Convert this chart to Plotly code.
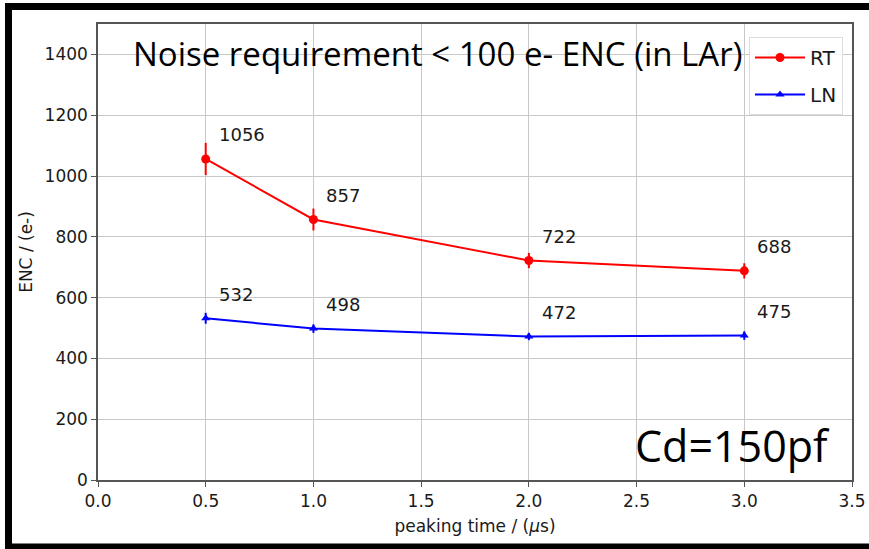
import plotly.graph_objects as go

peaking_time = [0.5, 1.0, 2.0, 3.0]
rt_enc = [1056, 857, 722, 688]
rt_err = [53, 36, 25, 25]
ln_enc = [532, 498, 472, 475]
ln_err = [18, 14, 12, 14]

x_ticks = [0.0, 0.5, 1.0, 1.5, 2.0, 2.5, 3.0, 3.5]
y_ticks = [0, 200, 400, 600, 800, 1000, 1200, 1400]

W, H = 869, 549
ML, MR, MT, MB = 98, 17, 24, 69
PW, PH = W - ML - MR, H - MT - MB

def px(x):
    return (x - ML) / PW

def py(y):
    return (H - MB - y) / PH

fig = go.Figure()
fig.add_trace(go.Scatter(
    x=peaking_time, y=rt_enc, name="RT", mode="lines+markers", legendgroup="rt",
    line=dict(color="#ff0000", width=2),
    marker=dict(symbol="circle", size=9, color="#ff0000"),
    error_y=dict(type="data", array=rt_err, color="#ff0000", thickness=2, width=0),
))
fig.add_trace(go.Scatter(
    x=peaking_time, y=ln_enc, name="LN", mode="lines+markers", legendgroup="ln",
    line=dict(color="#0000ff", width=2),
    marker=dict(symbol="triangle-up", size=8, color="#0000ff"),
    error_y=dict(type="data", array=ln_err, color="#0000ff", thickness=2, width=0),
))

annots = []
for xs, ys in ((peaking_time, rt_enc), (peaking_time, ln_enc)):
    for x, y in zip(xs, ys):
        annots.append(dict(x=x, y=y, xref="x", yref="y", text=str(y), showarrow=False,
                           xanchor="left", yanchor="middle", xshift=11, yshift=24,
                           font=dict(family="DejaVu Sans", size=18, color="#1a1a1a")))
annots.append(dict(x=px(131), y=py(54), xref="paper", yref="paper",
                   text="Noise requirement < 100 e- ENC (in LAr)", showarrow=False,
                   xanchor="left", yanchor="middle",
                   font=dict(family="Open Sans", size=33, color="#000000")))
annots.append(dict(x=px(633), y=py(445), xref="paper", yref="paper",
                   text="Cd=150pf", showarrow=False,
                   xanchor="left", yanchor="middle",
                   font=dict(family="Open Sans", size=43, color="#000000")))

shapes = [dict(type="rect", xref="paper", yref="paper",
               x0=px(8.5), x1=px(900), y0=py(547), y1=py(6.5),
               line=dict(color="#000000", width=7), layer="above")]

fig.update_layout(
    width=W, height=H,
    margin=dict(l=ML, r=MR, t=MT, b=MB, autoexpand=False),
    paper_bgcolor="white", plot_bgcolor="white",
    font=dict(family="DejaVu Sans", color="#262626"),
    showlegend=True,
    legend=dict(x=px(843), y=py(37), xanchor="right", yanchor="top",
                bgcolor="rgba(255,255,255,0.85)", bordercolor="#dddddd", borderwidth=1,
                font=dict(family="DejaVu Sans", size=20, color="#1a1a1a"),
                itemwidth=50, tracegroupgap=8),
    annotations=annots,
    shapes=shapes,
)
fig.update_xaxes(range=[0, 3.5], tickvals=x_ticks, ticktext=[f"{v:.1f}" for v in x_ticks],
                 automargin=False,
                 showgrid=True, gridcolor="#c8c8c8", gridwidth=1,
                 showline=True, linecolor="#555555", linewidth=1.5, mirror=True,
                 ticks="outside", ticklen=5, tickcolor="#555555", zeroline=False,
                 tickfont=dict(family="DejaVu Sans", size=17, color="#1a1a1a"),
                 title=dict(text="peaking time / (<i>μ</i>s)", standoff=10,
                            font=dict(family="DejaVu Sans", size=17, color="#1a1a1a")))
fig.update_yaxes(range=[0, 1500], tickvals=y_ticks,
                 automargin=False,
                 showgrid=True, gridcolor="#c8c8c8", gridwidth=1,
                 showline=True, linecolor="#555555", linewidth=1.5, mirror=True,
                 ticks="outside", ticklen=5, tickcolor="#555555", zeroline=False,
                 tickfont=dict(family="DejaVu Sans", size=17, color="#1a1a1a"),
                 title=dict(text="ENC / (e-)", standoff=8,
                            font=dict(family="DejaVu Sans", size=17, color="#1a1a1a")))

fig.write_html("out.html")
